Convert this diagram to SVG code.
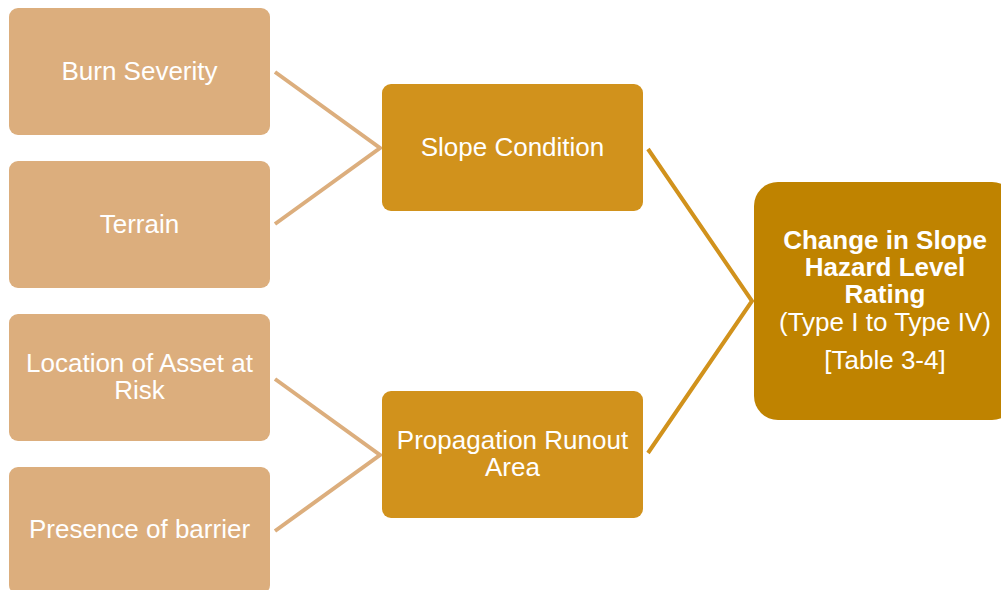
<svg xmlns="http://www.w3.org/2000/svg" width="1001" height="590" viewBox="0 0 1001 590">
<style>
.t{font-family:"Liberation Sans",Arial,sans-serif;font-size:26px;fill:#ffffff;text-anchor:middle}
.b{font-weight:bold}
.l1{fill:#DCAE7D}
.l2{fill:#D1921C}
.l3{fill:#BF8300}
.c1{fill:none;stroke:#DCAE7D;stroke-width:4}
.c2{fill:none;stroke:#D1921C;stroke-width:4}
</style>
<rect width="1001" height="590" fill="#ffffff"/>
<g id="connectors">
<polyline class="c1" points="275,72 380,148 275,224"/>
<polyline class="c1" points="275,379 380,455 275,531"/>
<polyline class="c2" points="648,149 752,301 648,453"/>
</g>
<g id="burn-severity">
<rect class="l1" x="9" y="8" width="261" height="127" rx="9"/>
<text class="t" x="139.5" y="80">Burn Severity</text>
</g>
<g id="terrain">
<rect class="l1" x="9" y="161" width="261" height="127" rx="9"/>
<text class="t" x="139.5" y="233">Terrain</text>
</g>
<g id="location">
<rect class="l1" x="9" y="314" width="261" height="127" rx="9"/>
<text class="t" x="139.5" y="372">Location of Asset at</text>
<text class="t" x="139.5" y="399">Risk</text>
</g>
<g id="barrier">
<rect class="l1" x="9" y="467" width="261" height="127" rx="9"/>
<text class="t" x="139.5" y="538">Presence of barrier</text>
</g>
<g id="slope-condition">
<rect class="l2" x="382" y="84" width="261" height="127" rx="9"/>
<text class="t" x="512.5" y="156">Slope Condition</text>
</g>
<g id="propagation">
<rect class="l2" x="382" y="391" width="261" height="127" rx="9"/>
<text class="t" x="512.5" y="449">Propagation Runout</text>
<text class="t" x="512.5" y="476">Area</text>
</g>
<g id="hazard-rating">
<rect class="l3" x="754" y="182" width="262" height="238" rx="24"/>
<text class="t b" x="885" y="249">Change in Slope</text>
<text class="t b" x="885" y="276">Hazard Level</text>
<text class="t b" x="885" y="303">Rating</text>
<text class="t" x="885" y="331">(Type I to Type IV)</text>
<text class="t" x="885" y="369">[Table 3-4]</text>
</g>
</svg>
